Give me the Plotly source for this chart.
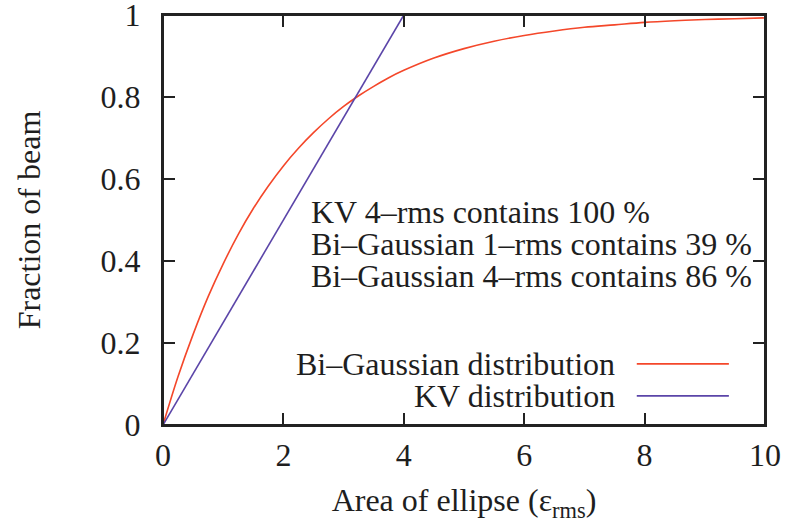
import plotly.graph_objects as go

# Fraction of beam enclosed versus ellipse area (in units of rms emittance)
area_gauss = [0, 0.25, 0.5, 0.75, 1, 1.25, 1.5, 1.75, 2, 2.25, 2.5, 2.75, 3,
              3.25, 3.5, 3.75, 4, 4.5, 5, 5.5, 6, 6.5, 7, 7.5, 8, 8.5, 9, 9.5, 10]
frac_gauss = [0, 0.118, 0.221, 0.313, 0.393, 0.465, 0.528, 0.583, 0.632, 0.675,
              0.713, 0.747, 0.777, 0.803, 0.826, 0.847, 0.865, 0.895, 0.918,
              0.936, 0.950, 0.961, 0.970, 0.976, 0.982, 0.986, 0.989, 0.991, 0.993]

area_kv = [0, 4]
frac_kv = [0, 1]

x_ticks = [0, 2, 4, 6, 8, 10]
y_ticks = [0, 0.2, 0.4, 0.6, 0.8, 1]

notes = [
    "KV 4\u2013rms contains 100 %",
    "Bi\u2013Gaussian 1\u2013rms contains 39 %",
    "Bi\u2013Gaussian 4\u2013rms contains 86 %",
]
legend_names = ["Bi\u2013Gaussian distribution", "KV distribution"]

RED = "#f4472a"
BLUE = "#5b45a8"
AXIS = "#222222"
TEXT = "#1e1e1e"
FONT = "'Liberation Serif', 'Times New Roman', 'DejaVu Serif', serif"
FS = 32

fig = go.Figure()
fig.add_trace(go.Scatter(x=area_gauss, y=frac_gauss, mode="lines",
                         line=dict(color=RED, width=1.6, shape="spline", smoothing=1.0),
                         name=legend_names[0], showlegend=False, cliponaxis=False))
fig.add_trace(go.Scatter(x=area_kv, y=frac_kv, mode="lines",
                         line=dict(color=BLUE, width=1.6),
                         name=legend_names[1], showlegend=False, cliponaxis=False))

axis_common = dict(
    showline=True, linecolor=AXIS, linewidth=2, mirror="ticks",
    ticks="inside", ticklen=12, tickwidth=2, tickcolor=AXIS,
    showgrid=False, zeroline=False, ticklabeloverflow="allow", automargin=False,
    tickfont=dict(family=FONT, size=FS, color=TEXT),
)

fig.update_xaxes(range=[0, 10], tickvals=x_ticks, ticklabelstandoff=1,
                 title=dict(text="Area of ellipse (\u03b5<sub>rms</sub>)",
                            font=dict(family=FONT, size=FS, color=TEXT), standoff=22),
                 **axis_common)
fig.update_yaxes(range=[0, 1], tickvals=y_ticks, ticklabelstandoff=14,
                 title=dict(text="Fraction of beam",
                            font=dict(family=FONT, size=FS, color=TEXT), standoff=50),
                 **axis_common)

# Plot frame
fig.add_shape(type="rect", xref="paper", yref="paper", x0=0, x1=1, y0=0, y1=1,
              line=dict(color=AXIS, width=2), layer="above")

# Text block inside the plot (tight line spacing)
for i, t in enumerate(notes):
    fig.add_annotation(x=0.242, y=0.519 - i * 0.078, xref="paper", yref="paper",
                       text=t, showarrow=False, xanchor="left", yanchor="middle",
                       height=30, valign="middle",
                       font=dict(family=FONT, size=FS, color=TEXT))

# Key: label on the left, line sample on the right
for i, (name, col) in enumerate(zip(legend_names, [RED, BLUE])):
    yk = 0.149 - i * 0.078
    fig.add_annotation(x=0.754, y=yk, xref="paper", yref="paper",
                       text=name, showarrow=False, xanchor="right", yanchor="middle",
                       height=30, valign="middle",
                       font=dict(family=FONT, size=FS, color=TEXT))
    fig.add_shape(type="line", xref="paper", yref="paper",
                  x0=0.787, x1=0.94, y0=yk, y1=yk,
                  line=dict(color=col, width=1.6))

fig.update_layout(
    width=787, height=523,
    margin=dict(l=163, r=22, t=15, b=98, autoexpand=False),
    plot_bgcolor="white", paper_bgcolor="white",
    font=dict(family=FONT, size=FS, color=TEXT),
)

fig.write_html("out.html")
